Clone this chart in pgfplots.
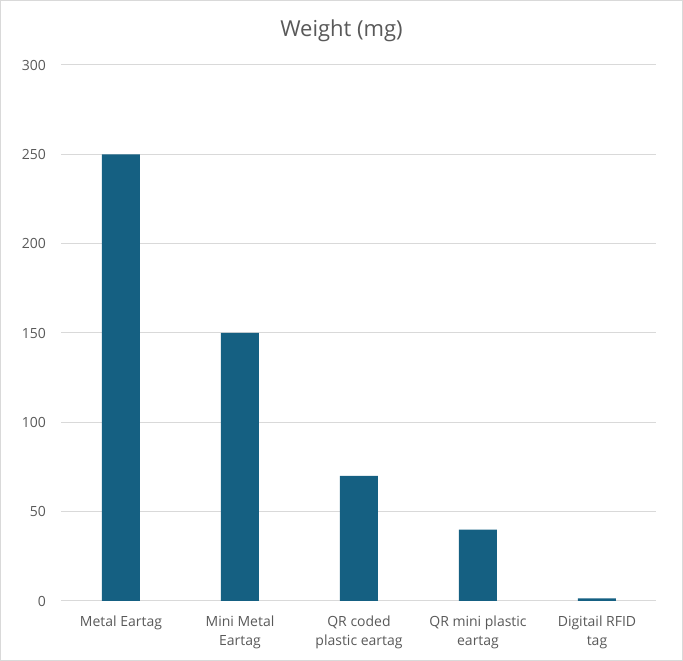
\documentclass[border=0pt]{standalone}
\usepackage{pgfplots}
\pgfplotsset{compat=1.18}
\usepackage{fontspec}
\setmainfont{Open Sans}
\definecolor{barblue}{HTML}{156082}
\definecolor{labgray}{HTML}{595959}
\definecolor{gridgray}{HTML}{D9D9D9}
\definecolor{framegray}{HTML}{D9D9D9}

\begin{document}
\begin{tikzpicture}[x=1pt,y=1pt]
\begin{axis}[
    at={(0,0)}, anchor=south west,
    scale only axis,
    width=595pt, height=536pt,
    ybar,
    bar width=38pt,
    xmin=-0.5, xmax=4.5,
    ymin=0, ymax=300,
    ytick={0,50,...,300},
    xtick=data,
    xticklabels={Metal Eartag, Mini Metal\\Eartag, QR coded\\plastic eartag, QR mini plastic\\eartag, Digitail RFID\\tag},
    x tick label style={align=center, font=\fontsize{14}{19.5}\selectfont, text=labgray, anchor=north, yshift=-11pt},
    y tick label style={font=\fontsize{14}{16}\selectfont, text=labgray, xshift=-12pt},
    /pgf/number format/assume math mode=true,
    major tick length=0pt,
    ymajorgrids,
    grid style={gridgray, line width=1pt},
    axis lines*=left,
    y axis line style={draw=none},
    x axis line style={draw=gridgray, line width=1pt, -},
    clip=false,
]
\addplot[fill=barblue, draw=none] coordinates {(0,250) (1,150) (2,70) (3,40) (4,1.5)};
\end{axis}
\draw[line width=1pt, framegray] (-61,-59.5) rectangle (621,600.5);
\node[text=labgray, font=\fontsize{22}{24}\selectfont] at (280,570) {Weight (mg)};
\end{tikzpicture}
\end{document}
